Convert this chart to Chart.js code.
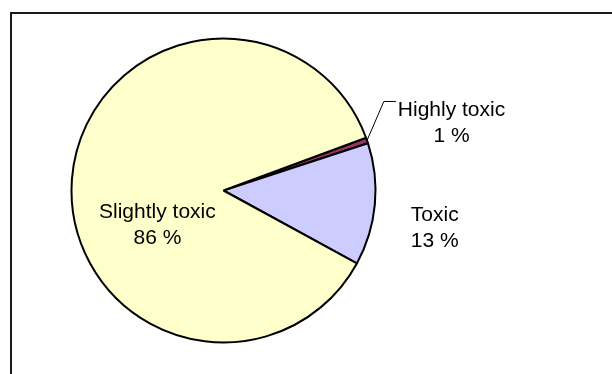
<!DOCTYPE html>
<html>
<head>
<meta charset="utf-8">
<script src="https://cdn.jsdelivr.net/npm/chart.js@4/dist/chart.umd.min.js"></script>
<style>
  html, body { margin: 0; padding: 0; background: #ffffff; }
  #wrap { width: 612px; height: 374px; }
</style>
</head>
<body>
<div id="wrap"><canvas id="pie" width="612" height="374"></canvas></div>
<script>
// Toxicity classes and their shares of the total (%)
const categories = ['Highly toxic', 'Toxic', 'Slightly toxic'];
const shares = [0.6, 13.0, 86.4];
const sliceColors = ['#993366', '#CCCCFF', '#FFFFCC'];

// Label text: class name over its rounded share
const labelLines = categories.map((c, i) => [c, Math.round(shares[i]) + ' %']);

// Where each label sits, as offsets from the pie centre in radius units
// (x of the text centre, y of the first baseline)
const labelOffsets = [
  { dx: 1.50, dy: -0.487, leader: true },
  { dx: 1.39, dy: 0.199, leader: false },
  { dx: -0.435, dy: 0.178, leader: false }
];

const FONT = '21px "Liberation Sans", Arial, sans-serif';
const LINE_GAP = 26;

const frameAndLabels = {
  id: 'frameAndLabels',
  beforeDraw(chart) {
    const ctx = chart.ctx;
    ctx.save();
    ctx.strokeStyle = '#1a1a1a';
    ctx.lineWidth = 2;
    ctx.beginPath();
    ctx.moveTo(11, chart.height + 5);
    ctx.lineTo(11, 13);
    ctx.lineTo(chart.width + 5, 13);
    ctx.stroke();
    ctx.restore();
  },
  afterDatasetsDraw(chart) {
    const ctx = chart.ctx;
    const arcs = chart.getDatasetMeta(0).data;
    ctx.save();
    ctx.font = FONT;
    ctx.fillStyle = '#000';
    ctx.textAlign = 'center';
    ctx.textBaseline = 'alphabetic';
    arcs.forEach((arc, i) => {
      const r = arc.outerRadius;
      const off = labelOffsets[i];
      const cx = arc.x + off.dx * r;
      const by = arc.y + off.dy * r;
      labelLines[i].forEach((t, k) => ctx.fillText(t, cx, by + k * LINE_GAP));
      if (off.leader) {
        const mid = (arc.startAngle + arc.endAngle) / 2;
        const ex = arc.x + Math.cos(mid) * r;
        const ey = arc.y + Math.sin(mid) * r;
        const left = cx - ctx.measureText(labelLines[i][0]).width / 2;
        const ly = by - 15;
        ctx.strokeStyle = '#000';
        ctx.lineWidth = 1;
        ctx.beginPath();
        ctx.moveTo(ex, ey);
        ctx.lineTo(left - 14, ly);
        ctx.lineTo(left - 2, ly);
        ctx.stroke();
      }
    });
    ctx.restore();
  }
};

new Chart(document.getElementById('pie'), {
  type: 'pie',
  data: {
    labels: categories,
    datasets: [{
      data: shares,
      backgroundColor: sliceColors,
      borderColor: '#000000',
      borderWidth: 2
    }]
  },
  options: {
    responsive: false,
    animation: false,
    rotation: 69.7,
    layout: { padding: { left: 70.5, right: 235.5, top: 37.5, bottom: 30.5 } },
    plugins: {
      legend: { display: false },
      tooltip: { enabled: false }
    }
  },
  plugins: [frameAndLabels]
});
</script>
</body>
</html>
